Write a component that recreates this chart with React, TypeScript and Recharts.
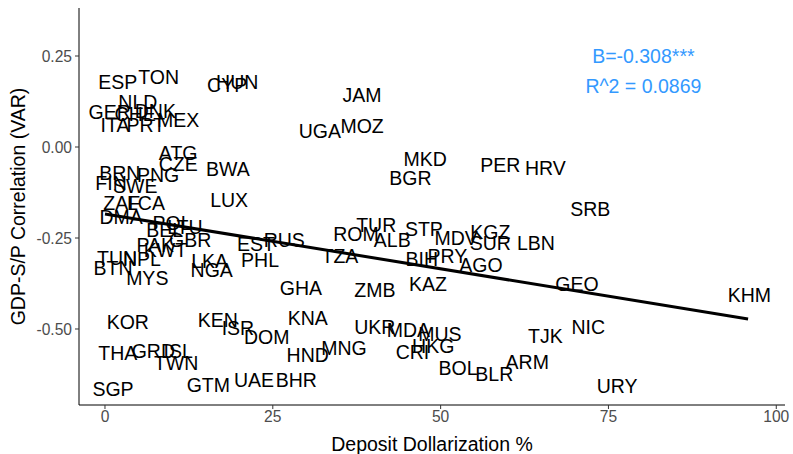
import React from 'react';
import { ScatterChart, Scatter, XAxis, YAxis, ReferenceLine } from 'recharts';

// country codes with deposit dollarization (%) and GDP-S/P correlation
const countries = [
  'ESP', 'TON', 'HUN', 'CYP', 'NLD', 'GER', 'CHE', 'DNK', 'ITA', 'PRT', 'MEX',
  'ATG', 'CZE', 'BWA', 'BRN', 'PNG', 'FIN', 'SWE', 'ZAF', 'LCA', 'DMA', 'LUX',
  'POL', 'BEL', 'LTU', 'GBR', 'PAK', 'KWT', 'TUN', 'NPL', 'BTN', 'MYS', 'LKA',
  'NGA', 'PHL', 'EST', 'RUS', 'GHA', 'TZA', 'ROM', 'TUR', 'ALB', 'ZMB', 'KAZ',
  'BIH', 'PRY', 'AGO', 'STP', 'MDV', 'KGZ', 'SUR', 'LBN', 'SRB', 'GEO', 'KHM',
  'MKD', 'BGR', 'PER', 'HRV', 'JAM', 'UGA', 'MOZ', 'KOR', 'KEN', 'ISR', 'DOM',
  'KNA', 'THA', 'GRD', 'ISL', 'TWN', 'SGP', 'GTM', 'UAE', 'BHR', 'HND', 'MNG',
  'UKR', 'MDA', 'MUS', 'CRI', 'HKG', 'BOL', 'BLR', 'ARM', 'URY', 'TJK', 'NIC',
];

const dollarization = [
  1.9, 8.0, 19.7, 18.2, 4.9, 0.7, 4.5, 7.5, 1.5, 6.1, 10.9,
  10.9, 10.9, 18.3, 2.2, 7.9, 0.9, 4.5, 2.5, 6.1, 2.4, 18.5,
  10.0, 8.9, 11.9, 12.7, 7.5, 9.0, 1.8, 5.5, 1.2, 6.3, 15.6,
  15.9, 23.1, 22.5, 26.7, 29.2, 35.0, 37.4, 40.4, 42.8, 40.2, 48.1,
  47.2, 51.0, 56.0, 47.5, 52.3, 57.4, 57.4, 64.2, 72.3, 70.3, 96.0,
  47.7, 45.5, 58.9, 65.6, 38.3, 32.0, 38.3, 3.4, 16.8, 19.8, 24.1,
  30.2, 1.9, 7.2, 10.9, 10.6, 1.2, 15.4, 22.2, 28.5, 30.2, 35.6,
  40.2, 45.2, 49.9, 45.8, 48.9, 52.6, 58.0, 62.9, 76.3, 65.6, 72.0,
];

const correlation = [
  0.179, 0.192, 0.179, 0.170, 0.124, 0.096, 0.091, 0.099, 0.060, 0.060, 0.074,
  -0.016, -0.047, -0.060, -0.071, -0.077, -0.099, -0.107, -0.154, -0.154, -0.192, -0.146,
  -0.209, -0.228, -0.220, -0.255, -0.270, -0.283, -0.305, -0.308, -0.332, -0.360, -0.313,
  -0.338, -0.310, -0.266, -0.255, -0.387, -0.299, -0.239, -0.214, -0.255, -0.393, -0.376,
  -0.308, -0.299, -0.324, -0.225, -0.250, -0.234, -0.264, -0.264, -0.170, -0.376, -0.407,
  -0.033, -0.085, -0.049, -0.058, 0.143, 0.044, 0.058, -0.481, -0.475, -0.497, -0.522,
  -0.470, -0.566, -0.560, -0.560, -0.593, -0.665, -0.654, -0.640, -0.640, -0.571, -0.552,
  -0.495, -0.503, -0.514, -0.563, -0.547, -0.607, -0.624, -0.591, -0.657, -0.519, -0.495,
];

// fitted regression line end points
const fitX = [0, 95.8];
const fitY = [-0.184, -0.4725];

const statLines = ['B=-0.308***', 'R^2 = 0.0869'];
const statX = [80.2, 80.2];
const statY = [0.25, 0.168];

const xTicks = [0, 25, 50, 75, 100];
const yTicks = [-0.5, -0.25, 0, 0.25];

const points = countries.map((code, i) => ({
  code,
  x: dollarization[i],
  y: correlation[i],
}));

const stats = statLines.map((code, i) => ({ code, x: statX[i], y: statY[i] }));

const FONT = '"Liberation Sans", Arial, sans-serif';

const makeLabel = (color: string) => (props: any) => (
  <text
    x={props.cx}
    y={props.cy}
    textAnchor="middle"
    dominantBaseline="central"
    fontSize={19.5}
    fontFamily={FONT}
    fill={color}
  >
    {props.payload.code}
  </text>
);

const CountryLabel = makeLabel('#000000');
const StatLabel = makeLabel('#3399FF');

export default function App() {
  return (
    <div style={{ position: 'absolute', left: 0, top: 0, background: '#fff', fontFamily: FONT }}>
      <ScatterChart width={793} height={454} margin={{ top: 8, right: 8, bottom: 0, left: 0 }}>
        <XAxis
          type="number"
          dataKey="x"
          domain={[-3.87, 101.3]}
          ticks={xTicks}
          allowDataOverflow
          height={49}
          tickSize={4}
          tickMargin={2}
          axisLine={{ stroke: '#000' }}
          tickLine={{ stroke: '#333' }}
          tick={{ fill: '#4d4d4d', fontSize: 15.6, fontFamily: FONT }}
          label={{ value: 'Deposit Dollarization %', position: 'insideBottom', offset: 3, fill: '#000', fontSize: 19.5, fontFamily: FONT }}
        />
        <YAxis
          type="number"
          dataKey="y"
          domain={[-0.7088, 0.3819]}
          ticks={yTicks}
          allowDataOverflow
          width={79}
          tickSize={4}
          tickMargin={3}
          tickFormatter={(v: number) => v.toFixed(2)}
          axisLine={{ stroke: '#000' }}
          tickLine={{ stroke: '#333' }}
          tick={{ fill: '#4d4d4d', fontSize: 15.6, fontFamily: FONT }}
          label={{
            value: 'GDP-S/P Correlation (VAR)',
            angle: -90,
            position: 'insideLeft',
            offset: 18,
            fill: '#000',
            fontSize: 19.5,
            fontFamily: FONT,
            style: { textAnchor: 'middle' },
          }}
        />
        <Scatter data={points} shape={CountryLabel} isAnimationActive={false} />
        <Scatter data={stats} shape={StatLabel} isAnimationActive={false} />
        <ReferenceLine
          segment={[
            { x: fitX[0], y: fitY[0] },
            { x: fitX[1], y: fitY[1] },
          ]}
          stroke="#000"
          strokeWidth={3}
        />
      </ScatterChart>
    </div>
  );
}
